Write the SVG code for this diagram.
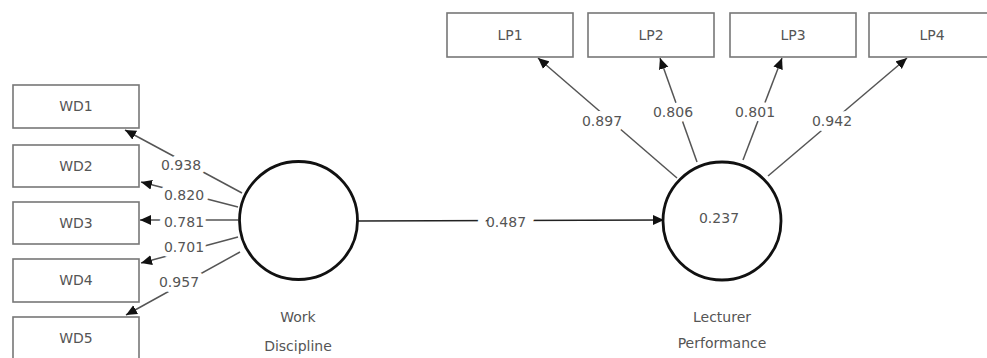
<svg xmlns="http://www.w3.org/2000/svg" width="987" height="358" viewBox="0 0 987 358">
<defs>
<marker id="ah" markerUnits="userSpaceOnUse" markerWidth="11" markerHeight="11" viewBox="0 0 10 10" refX="10" refY="5" orient="auto">
<path d="M0,0.5 L10,5 L0,9.5 Z" fill="#111"/>
</marker>
<style>
.box{fill:#fff;stroke:#777;stroke-width:1.6}
.lv{fill:#fff;stroke:#111;stroke-width:2.8}
.t{font-family:"DejaVu Sans",sans-serif;font-size:14px;fill:#555;text-anchor:middle}
.lbl{font-family:"DejaVu Sans",sans-serif;font-size:14px;fill:#555;text-anchor:middle;stroke:#fff;stroke-width:10;paint-order:stroke;stroke-linejoin:round}
.c{stroke:#555;stroke-width:1.5;fill:none;marker-end:url(#ah)}
.p{stroke:#222;stroke-width:1.7;fill:none;marker-end:url(#ah)}
</style>
</defs>
<rect width="987" height="358" fill="#fff"/>
<g id="connectors">
<line class="c" x1="242" y1="193" x2="125" y2="130"/>
<line class="c" x1="238" y1="207" x2="141" y2="182"/>
<line class="c" x1="238" y1="220" x2="140" y2="220"/>
<line class="c" x1="238" y1="237" x2="141" y2="263"/>
<line class="c" x1="240" y1="252" x2="126" y2="315"/>
<line class="c" x1="677" y1="178" x2="538" y2="58"/>
<line class="c" x1="697" y1="162" x2="660" y2="58"/>
<line class="c" x1="743" y1="160" x2="782" y2="58"/>
<line class="c" x1="768" y1="176" x2="907" y2="58"/>
<line class="p" x1="357" y1="221" x2="664" y2="220"/>
<text class="lbl" x="181" y="170">0.938</text>
<text class="lbl" x="184" y="200">0.820</text>
<text class="lbl" x="184" y="227">0.781</text>
<text class="lbl" x="184" y="252">0.701</text>
<text class="lbl" x="179" y="287">0.957</text>
<text class="lbl" x="602" y="126">0.897</text>
<text class="lbl" x="673" y="117">0.806</text>
<text class="lbl" x="755" y="117">0.801</text>
<text class="lbl" x="832" y="126">0.942</text>
<text class="lbl" x="506" y="227" style="stroke-width:18">0.487</text>
</g>
<g id="WD1"><rect class="box" x="13" y="85" width="126" height="43"/><text class="t" x="76" y="111">WD1</text></g>
<g id="WD2"><rect class="box" x="13" y="145" width="126" height="42"/><text class="t" x="76" y="171">WD2</text></g>
<g id="WD3"><rect class="box" x="13" y="202" width="126" height="42"/><text class="t" x="76" y="228">WD3</text></g>
<g id="WD4"><rect class="box" x="13" y="259" width="126" height="43"/><text class="t" x="76" y="285">WD4</text></g>
<g id="WD5"><rect class="box" x="13" y="317" width="126" height="42"/><text class="t" x="76" y="343">WD5</text></g>
<g id="LP1"><rect class="box" x="447" y="13" width="126" height="44"/><text class="t" x="510" y="40">LP1</text></g>
<g id="LP2"><rect class="box" x="588" y="13" width="126" height="44"/><text class="t" x="651" y="40">LP2</text></g>
<g id="LP3"><rect class="box" x="730" y="13" width="126" height="44"/><text class="t" x="793" y="40">LP3</text></g>
<g id="LP4"><rect class="box" x="869" y="13" width="126" height="44"/><text class="t" x="932" y="40">LP4</text></g>
<g id="WorkDiscipline"><circle class="lv" cx="298.5" cy="220.5" r="59"/><text class="t" x="298" y="322">Work</text><text class="t" x="298" y="351">Discipline</text></g>
<g id="LecturerPerformance"><circle class="lv" cx="722" cy="221" r="59"/><text class="t" x="719" y="223">0.237</text><text class="t" x="722" y="322">Lecturer</text><text class="t" x="722" y="348">Performance</text></g>
</svg>
